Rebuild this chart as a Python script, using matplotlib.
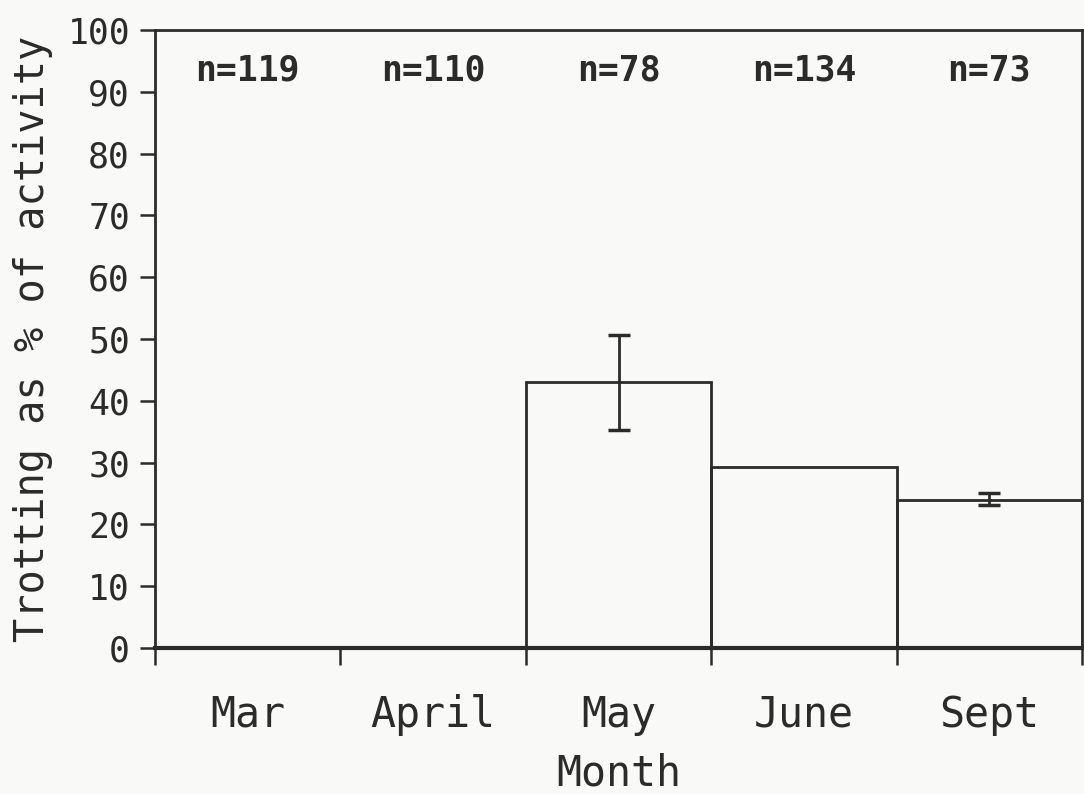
import matplotlib
matplotlib.use("Agg")
import matplotlib.pyplot as plt
import numpy as np

months = ["Mar", "April", "May", "June", "Sept"]
trot_pct = [0, 0, 43, 29.3, 24]
err_low = [0, 0, 35.3, 0, 23.1]
err_high = [0, 0, 50.6, 0, 25.1]
n_labels = ["n=119", "n=110", "n=78", "n=134", "n=73"]
y_ticks = list(range(0, 101, 10))

ink = "#2b2b2b"
bg = "#f9f9f7"
plt.rcParams['font.family'] = ['DejaVu Sans Mono']

fig = plt.figure(figsize=(10.84, 7.94), dpi=100, facecolor=bg)
ax = fig.add_axes([155/1084, 146/794, (1082-155)/1084, (648-30)/794])
ax.set_facecolor(bg)

x = np.arange(len(months))
ax.bar(x, trot_pct, width=1.0, facecolor="none", edgecolor=ink, linewidth=2.0, zorder=3)

# error bars only where present
for xi, m, lo, hi in zip(x, trot_pct, err_low, err_high):
    if hi > lo:
        ax.errorbar([xi], [m], yerr=[[m - lo], [hi - m]], fmt="none", ecolor=ink,
                    elinewidth=2.0, capsize=8, capthick=2.5, zorder=4)

for xi, lab in zip(x, n_labels):
    ax.text(xi, 93.5, lab, ha="center", va="center", fontsize=25, color=ink,
            fontweight="bold")

ax.set_xlim(-0.5, 4.5)
ax.set_ylim(0, 100)
ax.set_yticks(y_ticks)
ax.set_yticklabels([str(v) for v in y_ticks], fontsize=25, color=ink)
ax.tick_params(axis="y", direction="out", length=11, width=1.8, color=ink, pad=7)

ax.set_xticks(x)
ax.set_xticklabels(months, fontsize=30, color=ink)
ax.tick_params(axis="x", which="major", length=0, pad=33)
ax.set_xticks(np.arange(-0.5, 5.0, 1.0), minor=True)
ax.tick_params(axis="x", which="minor", direction="out", length=12, width=1.8, color=ink)

for s in ax.spines.values():
    s.set_color(ink)
    s.set_linewidth(2.0)
ax.spines["bottom"].set_linewidth(3.0)

ax.set_xlabel("Month", fontsize=30, color=ink, labelpad=12)
ax.set_ylabel("Trotting as % of activity", fontsize=29, color=ink, labelpad=10)

fig.savefig("out.png", dpi=100, facecolor=bg)
